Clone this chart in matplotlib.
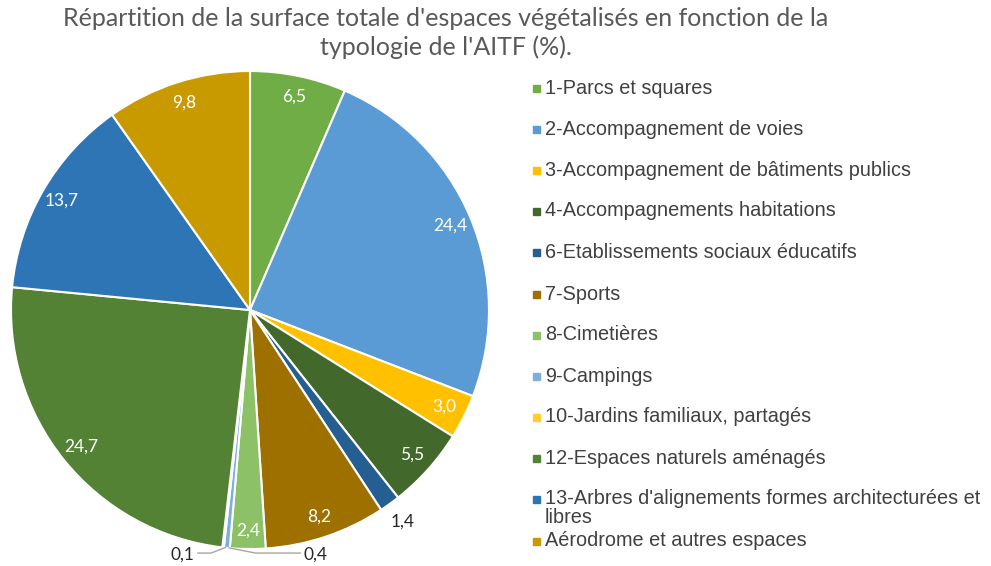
import matplotlib.pyplot as plt
import numpy as np
from matplotlib.patches import Rectangle

categories = [
    "1-Parcs et squares",
    "2-Accompagnement de voies",
    "3-Accompagnement de bâtiments publics",
    "4-Accompagnements habitations",
    "6-Etablissements sociaux éducatifs",
    "7-Sports",
    "8-Cimetières",
    "9-Campings",
    "10-Jardins familiaux, partagés",
    "12-Espaces naturels aménagés",
    "13-Arbres d'alignements formes architecturées et\nlibres",
    "Aérodrome et autres espaces",
]
values = [6.5, 24.4, 3.0, 5.5, 1.4, 8.2, 2.4, 0.4, 0.1, 24.7, 13.7, 9.8]
colors = ['#70AD47', '#5B9BD5', '#FFC000', '#43682B', '#255E91', '#9E7000',
          '#8CC168', '#7CAFDD', '#FFCD33', '#548235', '#2E75B6', '#C99A00']
title = "Répartition de la surface totale d'espaces végétalisés en fonction de la\ntypologie de l'AITF (%)."

# radial position of each value label (None = label below the pie with a leader)
label_dist = [0.91, 0.91, 0.91, 0.91, 1.09, 0.91, 0.925, None, None, 0.91, 0.91, 0.91]

fig = plt.figure(figsize=(9.91, 5.66), dpi=100)
fig.patch.set_facecolor('white')

W, H = 991, 566
cx, cy, r = 250, 310, 239
ax = fig.add_axes([(cx - r) / W, 1 - (cy + r) / H, 2 * r / W, 2 * r / H])

wedges, _ = ax.pie(values, colors=colors, startangle=90, counterclock=False,
                   radius=1, wedgeprops=dict(edgecolor='white', linewidth=1.5))
ax.set_xlim(-1, 1)
ax.set_ylim(-1, 1)
ax.axis('off')

label_font = dict(family='Lato', fontsize=12.5)
for i, (w, v) in enumerate(zip(wedges, values)):
    ang = np.deg2rad((w.theta1 + w.theta2) / 2)
    txt = f"{v:.1f}".replace('.', ',')
    d = label_dist[i]
    if d is not None:
        col = 'white' if d < 1 else '#262626'
        ax.text(d * np.cos(ang), d * np.sin(ang), txt, color=col,
                ha='center', va='center', **label_font)
    else:
        # tiny slices: label below the pie with a leader line
        x0, y0 = np.cos(ang), np.sin(ang)
        if i == 7:
            xs = [x0 + 0.01, x0 + 0.12, 0.21]
            ax.text(0.222, -1.025, txt, color='#262626', ha='left', va='center', **label_font)
        else:
            xs = [x0 + 0.01, x0 - 0.05, -0.218]
            ax.text(-0.232, -1.025, txt, color='#262626', ha='right', va='center', **label_font)
        ax.plot(xs, [y0, -1.017, -1.017], color='#A6A6A6', lw=1, clip_on=False)

fig.text(446 / W, 1 - 33 / H, title, ha='center', va='center', fontsize=18,
         family='Lato', color='#595959', linespacing=1.25)

rows_y = [88, 129, 170, 211, 252, 294, 335, 376, 417, 458, 499, 541]
for cat, col, yy in zip(categories, colors, rows_y):
    fig.patches.append(Rectangle((533 / W, 1 - (yy + 3.5) / H), 7 / W, 7 / H,
                                 transform=fig.transFigure, color=col))
    t = fig.text(545 / W, 1 - yy / H, cat, ha='left', va='center',
                 fontsize=14.3, family='Liberation Sans', color='#404040',
                 linespacing=1.0)
    if '\n' in cat:
        t.set_va('top')
        t.set_y(1 - (yy - 10) / H)

fig.savefig('out.png', dpi=100)
